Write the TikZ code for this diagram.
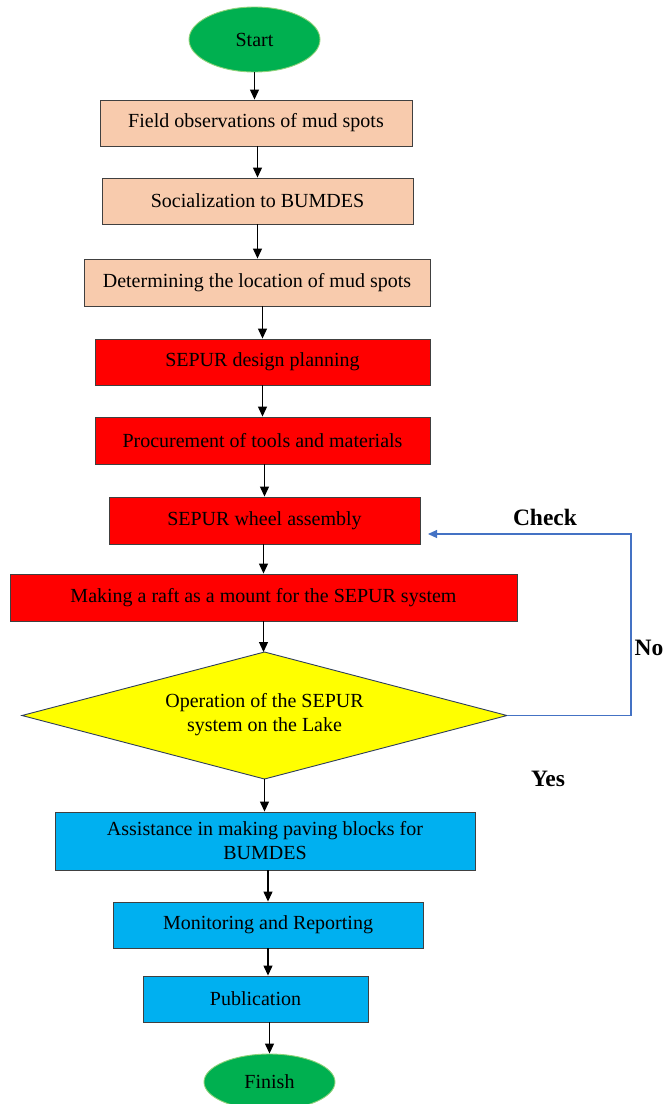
\documentclass[tikz,border=0pt]{standalone}
\usepackage{fontspec}
\setmainfont{Liberation Serif}
\usetikzlibrary{shapes.geometric,arrows.meta}
\definecolor{peach}{HTML}{F8CBAD}
\definecolor{redbox}{HTML}{FF0000}
\definecolor{yellowbox}{HTML}{FFFF00}
\definecolor{bluebox}{HTML}{00B0F0}
\definecolor{greenov}{HTML}{00B050}
\definecolor{greenedge}{HTML}{8FD27A}
\definecolor{loopblue}{HTML}{4472C4}
\definecolor{diaedge}{HTML}{2F3E5C}
\begin{document}
\begin{tikzpicture}[x=1pt,y=-1pt,
  txt/.style={font=\fontsize{20}{24}\selectfont},
  box/.style={draw=black!75,line width=0.9pt,inner sep=0pt,align=center,txt},
  oval/.style={ellipse,draw=greenedge,line width=0.9pt,fill=greenov,inner sep=0pt,txt},
  arr/.style={draw=black,line width=1.2pt,-{Triangle[length=10pt,width=9pt]}},
  loop/.style={draw=loopblue,line width=1.1pt,-{Triangle[length=9pt,width=8pt]}},
  lbl/.style={font=\fontsize{23.5}{27}\selectfont\bfseries}]
\useasboundingbox (0,0) rectangle (664,1104);
\node[oval,minimum width=131pt,minimum height=65pt] (st) at (254.5,39.5) {Start};
\node[box,fill=peach,minimum width=312pt,minimum height=46pt] (b1) at (256,123) {Field observations of mud spots};
\node[box,fill=peach,minimum width=311pt,minimum height=46pt] (b2) at (257.5,201) {Socialization to BUMDES};
\node[box,fill=peach,minimum width=346pt,minimum height=47pt] (b3) at (257,282.5) {Determining the location of mud spots};
\node[box,fill=redbox,minimum width=335pt,minimum height=46pt] (b4) at (262.5,362) {SEPUR design planning};
\node[box,fill=redbox,minimum width=335pt,minimum height=47pt] (b5) at (262.5,440.5) {Procurement of tools and materials};
\node[box,fill=redbox,minimum width=311pt,minimum height=47pt] (b6) at (264.5,520.5) {SEPUR wheel assembly};
\node[box,fill=redbox,minimum width=507pt,minimum height=47pt] (b7) at (263.5,597.5) {Making a raft as a mount for the SEPUR system};
\node[diamond,draw=diaedge,line width=0.9pt,fill=yellowbox,inner sep=0pt,outer sep=0pt,minimum width=485pt,minimum height=127pt] (dia) at (264.5,715.5) {};
\node[txt,align=center,inner sep=0pt] (diatxt) at (264.5,715) {Operation of the SEPUR\\system on the Lake};
\node[box,fill=bluebox,minimum width=420pt,minimum height=58pt] (b8) at (265,841) {Assistance in making paving blocks for\\BUMDES};
\node[box,fill=bluebox,minimum width=310pt,minimum height=46pt] (b9) at (268,925) {Monitoring and Reporting};
\node[box,fill=bluebox,minimum width=225pt,minimum height=46pt] (b10) at (255.5,999) {Publication};
\node[oval,minimum width=131pt,minimum height=56pt] (fin) at (269.5,1082) {Finish};
\draw[arr] (st.south) -- (st.south |- b1.north);
\draw[arr] (b2.north |- b1.south) -- (b2.north);
\draw[arr] (b2.south) -- (b2.south |- b3.north);
\draw[arr] (b4.north |- b3.south) -- (b4.north);
\draw[arr] (b4.south) -- (b5.north);
\draw[arr] (b6.north |- b5.south) -- (b6.north);
\draw[arr] (b7.north |- b6.south) -- (b7.north);
\draw[arr] (b7.south) -- (b7.south |- dia.north);
\draw[arr] (dia.south) -- (dia.south |- b8.north);
\draw[arr] (b9.north |- b8.south) -- (b9.north);
\draw[arr] (b9.south) -- (b9.south |- b10.north);
\draw[arr] (fin.north |- b10.south) -- (fin.north);
\coordinate (fbA) at (631,715.5);
\coordinate (fbB) at (631,534);
\coordinate (fbEnd) at (428,534);
\draw[loop] (dia.east) -- (fbA) -- (fbB) -- (fbEnd);
\node[lbl] (check) at (545,517) {Check};
\node[lbl] (no) at (649,648) {No};
\node[lbl] (yes) at (548,779) {Yes};
\end{tikzpicture}
\end{document}
